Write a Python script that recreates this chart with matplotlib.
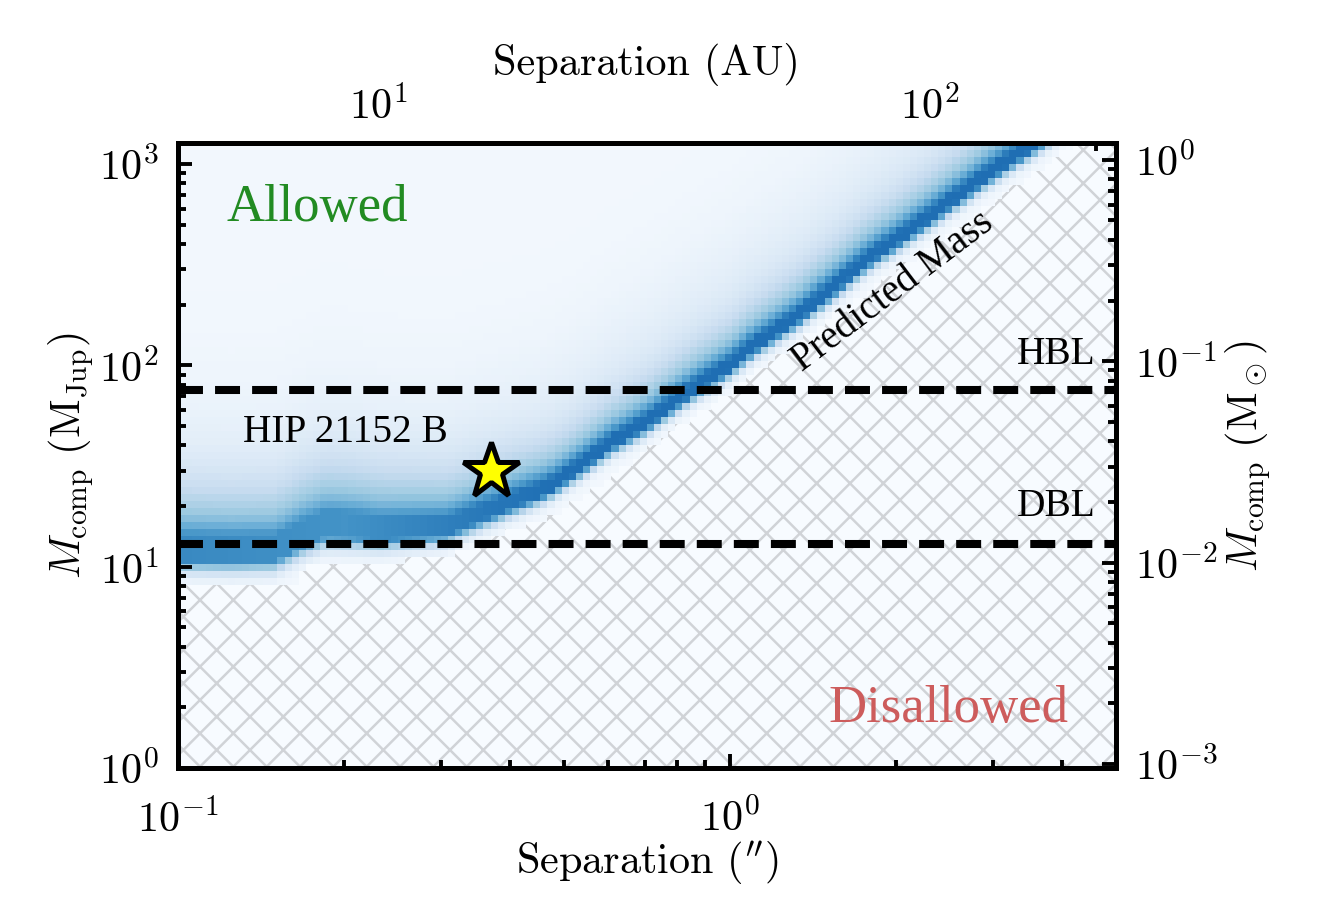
import numpy as np
import matplotlib.pyplot as plt
from matplotlib.patches import Rectangle
from matplotlib.ticker import NullFormatter

plt.rcParams['font.family'] = 'serif'
plt.rcParams['font.serif'] = ['cmr10']
plt.rcParams['mathtext.fontset'] = 'cm'
plt.rcParams['axes.formatter.use_mathtext'] = True
plt.rcParams['font.size'] = 7.6
plt.rcParams['hatch.linewidth'] = 0.45

# system constants
dist_pc = 43.4          # AU per arcsec
mjup_per_msun = 1047.6
hbl_mass = 75.0
dbl_mass = 13.0
star_sep, star_mass = 0.369, 30.0

# ridge of the predicted-mass histogram
ridge_sep = [0.10, 0.125, 0.15, 0.168, 0.185, 0.205, 0.232, 0.307, 0.405, 0.466,
             0.535, 0.614, 0.708, 0.871, 1.0, 1.10, 1.33, 1.76, 2.32, 2.86, 3.52, 5.0]
ridge_mass = [11.8, 11.7, 11.8, 14.0, 15.5, 15.3, 14.8, 15.3, 20.8, 24.2,
              31.4, 41.4, 52, 78.6, 99, 124, 175, 325, 550, 840, 1230, 2450]

# band profile across the ridge: levels and widths (dex) at a few separations
prof_sep = [0.10, 0.20, 0.35, 0.50, 5.0]
core_level = [0.32, 0.30, 0.33, 0.35, 0.35]
core_width = [0.07, 0.07, 0.06, 0.05, 0.05]
mid_level = [0.33, 0.32, 0.33, 0.33, 0.33]
mid_width = [0.20, 0.20, 0.17, 0.14, 0.14]
wide_level = [0.16, 0.16, 0.15, 0.15, 0.15]
wide_width = [0.42, 0.42, 0.40, 0.38, 0.38]
low_width = [0.06, 0.06, 0.045, 0.04, 0.04]
peak_level = [0.66, 0.62, 0.72, 0.76, 0.76]

# lower edge of the allowed region (hatch starts below it)
edge_sep = [0.10, 0.165, 0.17, 0.24, 0.31, 0.337, 0.387, 0.422, 0.466, 0.614,
            0.708, 0.857, 1.0, 1.127, 3.06, 4.22, 5.0]
edge_mass = [8.3, 8.3, 10.0, 10.5, 11.1, 12.2, 14.5, 15.8, 17.1, 28,
             38.2, 55.7, 73.4, 95.5, 670, 1271, 1784]

xlim = (0.1, 5.0)
ylim = (1.0, 1270.0)

# histogram grid, log bins
lx_edges = np.linspace(np.log10(xlim[0]), np.log10(xlim[1]), 133)
ly_edges = np.linspace(np.log10(ylim[0]), np.log10(ylim[1]), 90)
lxc = 0.5 * (lx_edges[1:] + lx_edges[:-1])
lyc = 0.5 * (ly_edges[1:] + ly_edges[:-1])
LX, LY = np.meshgrid(lxc, lyc)

d = LY - np.interp(LX, np.log10(ridge_sep), np.log10(ridge_mass))
lp = np.log10(prof_sep)
def prof(vals):
    return np.interp(LX, lp, vals)
below = d < 0
lw_ = prof(low_width)
dens = (prof(core_level) * np.exp(-0.5 * (d / np.where(below, lw_, prof(core_width))) ** 2)
        + prof(mid_level) * np.exp(-0.5 * (d / np.where(below, lw_, prof(mid_width))) ** 2)
        + prof(wide_level) * np.exp(-0.5 * (d / np.where(below, lw_, prof(wide_width))) ** 2)
        + 0.03)
dens = np.minimum(dens, prof(peak_level))

edge = np.interp(LX, np.log10(edge_sep), np.log10(edge_mass))
dens = np.ma.masked_where(LY < edge, dens)

fig = plt.figure(figsize=(3.3, 2.31), dpi=400)
ax = fig.add_axes([0.1348, 0.1688, 0.7106, 0.6764])
ax.set_xscale('log')
ax.set_yscale('log')

cmap = plt.get_cmap('Blues')
ax.add_patch(Rectangle((0, 0), 1, 1, transform=ax.transAxes, facecolor=cmap(0.0),
                       edgecolor='#d0d3d7', hatch='xxxx', lw=0, zorder=0))
ax.pcolormesh(10 ** lx_edges, 10 ** ly_edges, dens, cmap=cmap, vmin=0, vmax=1,
              shading='flat', zorder=1, rasterized=True)

dash = (0, (3.1, 1.5))
ax.axhline(hbl_mass, color='k', ls=dash, lw=1.45, zorder=3)
ax.axhline(dbl_mass, color='k', ls=dash, lw=1.45, zorder=3)
ax.plot(star_sep, star_mass, marker='*', ms=10.5, mfc='yellow', mec='k', mew=0.9, zorder=4)

tfont = 'Liberation Serif'
ax.text(0.1227, 520, 'Allowed', color='#228b22', fontsize=9.5, family=tfont, va='baseline')
ax.text(4.1, 1.69, 'Disallowed', color='#cd5c5c', fontsize=9.5, family=tfont,
        va='baseline', ha='right')
ax.text(0.131, 46.4, 'HIP 21152 B', fontsize=7.1, family=tfont, va='center')
ax.text(4.6, 113, 'HBL', fontsize=7.1, family=tfont, va='center', ha='right')
ax.text(4.6, 19.9, 'DBL', fontsize=7.1, family=tfont, va='center', ha='right')
ax.text(1.97, 231, 'Predicted Mass', fontsize=7.1, family=tfont, rotation=37,
        ha='center', va='center', rotation_mode='anchor')

ax.set_xlim(*xlim)
ax.set_ylim(*ylim)
ax.set_xlabel(r'Separation $(^{\prime\prime})$', labelpad=0.0)
ax.set_ylabel(r'$M_\mathrm{comp}\ (\mathrm{M_{Jup}})$', labelpad=0.5)

for s in ax.spines.values():
    s.set_linewidth(0.9)
ax.tick_params(which='both', direction='in', top=False, right=False, width=0.7)
ax.tick_params(which='major', length=2.6)
ax.tick_params(which='minor', length=1.4)
ax.tick_params(axis='x', which='major', pad=5.5)

secx = ax.secondary_xaxis('top', functions=(lambda x: x * dist_pc, lambda x: x / dist_pc))
secx.set_xticks([10, 100])
secx.xaxis.set_minor_formatter(NullFormatter())
secx.set_xlabel('Separation (AU)', labelpad=1.8)
secx.tick_params(which='both', direction='in', width=0.7)
secx.tick_params(which='major', length=2.6, pad=3.0)
secx.tick_params(which='minor', length=1.4)

secy = ax.secondary_yaxis('right', functions=(lambda m: m / mjup_per_msun,
                                              lambda m: m * mjup_per_msun))
secy.set_yticks([1e-3, 1e-2, 1e-1, 1e0])
secy.yaxis.set_minor_formatter(NullFormatter())
secy.set_ylabel(r'$M_\mathrm{comp}\ (\mathrm{M}_\odot)$', labelpad=1.0)
secy.tick_params(which='both', direction='in', width=0.7)
secy.tick_params(which='major', length=2.6)
secy.tick_params(which='minor', length=1.4)
for sec in (secx, secy):
    for s in sec.spines.values():
        s.set_linewidth(0.9)

fig.savefig('out.png', dpi=400)
